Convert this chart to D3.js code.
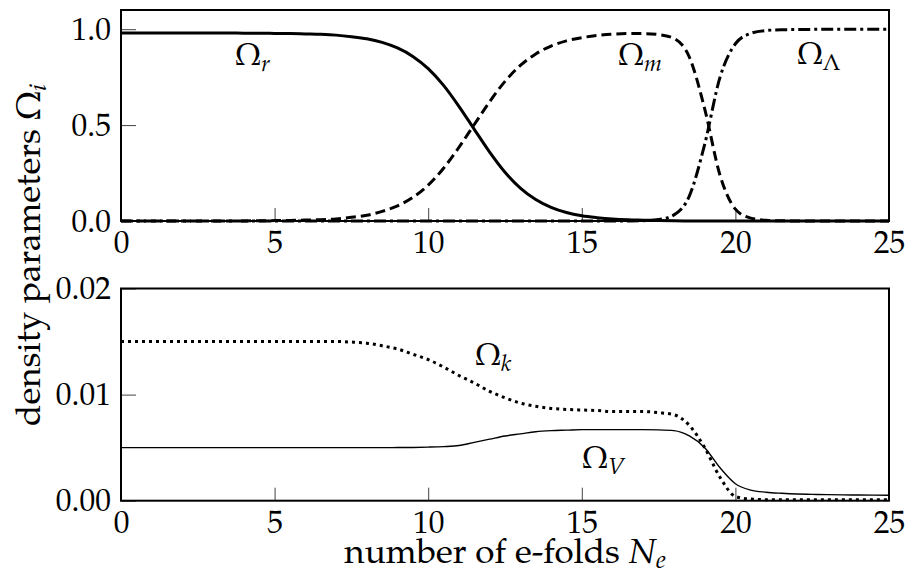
<!DOCTYPE html>
<html>
<head>
<meta charset="utf-8">
<script src="https://cdn.jsdelivr.net/npm/d3@7"></script>
<style>
  html, body { margin: 0; padding: 0; background: #fff; }
  svg { display: block; }
  text { font-family: 'TeX Gyre Pagella', 'P052', 'URW Palladio L', 'Palatino Linotype', Palatino, 'Liberation Serif', serif; fill: #000; }
</style>
</head>
<body>
<svg id="chart" width="905" height="572"></svg>
<script>
// number of e-folds (x values)
const Ne = [0,0.5,1,1.5,2,2.5,3,3.5,4,4.5,5,5.5,6,6.5,7,7.5,8,8.5,9,9.5,10,10.5,11,11.5,12,12.5,13,13.5,14,14.5,15,15.5,16,16.5,17,17.5,18,18.5,19,19.5,20,20.5,21,21.5,22,22.5,23,23.5,24,24.5,25];

// top panel series
const omegaR = [0.980,0.980,0.980,0.980,0.980,0.980,0.980,0.980,0.979,0.979,0.978,0.977,0.975,0.973,0.969,0.961,0.950,0.931,0.902,0.858,0.794,0.707,0.598,0.478,0.359,0.254,0.172,0.112,0.071,0.044,0.027,0.017,0.010,0.006,0.004,0.002,0.001,0.0005,0,0,0,0,0,0,0,0,0,0,0,0,0];
const omegaM = [0,0,0,0,0,0,0,0.0003,0.0006,0.001,0.002,0.003,0.005,0.007,0.011,0.019,0.030,0.050,0.079,0.123,0.187,0.275,0.384,0.503,0.622,0.728,0.811,0.871,0.912,0.939,0.956,0.967,0.974,0.977,0.977,0.972,0.952,0.855,0.585,0.238,0.062,0.015,0.004,0.001,0.0003,0,0,0,0,0,0];
const omegaL = [0,0,0,0,0,0,0,0,0,0,0,0,0,0,0,0,0,0,0,0,0,0,0,0,0,0,0,0,0,0,0,0,0,0.0004,0.0017,0.0074,0.032,0.13,0.40,0.75,0.924,0.978,0.993,0.997,0.998,0.999,0.999,0.999,0.999,0.999,0.999];

// bottom panel series
const omegaK = [0.0150,0.0150,0.0150,0.0150,0.0150,0.0150,0.0150,0.0150,0.0150,0.0150,0.0150,0.0150,0.0150,0.0150,0.0150,0.01495,0.01485,0.0146,0.0143,0.0138,0.0133,0.0126,0.0118,0.0111,0.0103,0.0097,0.0092,0.0089,0.0087,0.0086,0.00855,0.0085,0.0084,0.0084,0.0084,0.0083,0.0081,0.0071,0.0050,0.0022,0.0004,0.00015,0.0001,0.0001,0.0001,0.0001,0.0001,0.0001,0.0001,0.0001,0.0001];
const omegaV = [0.0050,0.0050,0.0050,0.0050,0.0050,0.0050,0.0050,0.0050,0.0050,0.0050,0.0050,0.0050,0.0050,0.0050,0.0050,0.0050,0.0050,0.0050,0.00501,0.00502,0.00505,0.0051,0.0052,0.0055,0.0058,0.0061,0.0063,0.0065,0.0066,0.00665,0.0067,0.0067,0.0067,0.0067,0.0067,0.00668,0.0066,0.0061,0.0050,0.0031,0.0016,0.0010,0.0008,0.0007,0.00063,0.0006,0.00057,0.00055,0.00054,0.00053,0.00052];

// ticks
const xTicks = [0,5,10,15,20,25];
const yTicksTop = [0,0.5,1.0];
const yTicksBottom = [0,0.01,0.02];

const svg = d3.select("#chart");
const left = 121, right = 889;
const x = d3.scaleLinear().domain([0,25]).range([left,right]);
const yTop = d3.scaleLinear().domain([0,1.1]).range([221,10]);
const yBot = d3.scaleLinear().domain([0,0.02]).range([500.7,288.5]);

function axes(yScale, yTicks, fmt) {
  const y0 = yScale.range()[0];
  const gx = svg.append("g").attr("transform", `translate(0,${y0})`)
    .call(d3.axisBottom(x).tickValues(xTicks).tickSize(-13).tickPadding(10).tickFormat(d3.format("d")));
  const gy = svg.append("g").attr("transform", `translate(${left},0)`)
    .call(d3.axisLeft(yScale).tickValues(yTicks).tickSize(-15).tickPadding(10).tickFormat(d3.format(fmt)));
  [gx, gy].forEach(g => {
    g.select(".domain").remove();
    g.selectAll(".tick line").attr("stroke", "#444").attr("stroke-width", 1);
    g.selectAll(".tick text").attr("font-size", 31.5).attr("fill", "#000");
    g.attr("font-family", null).attr("font-size", null);
  });
}

function line(yScale, vals) {
  return d3.line().x((d,i) => x(Ne[i])).y(d => yScale(d)).curve(d3.curveMonotoneX)(vals);
}

function frame(yScale) {
  const y0 = yScale.range()[0], y1 = yScale.range()[1];
  svg.append("rect").attr("x", left).attr("y", y1).attr("width", right-left).attr("height", y0-y1)
    .attr("fill", "none").attr("stroke", "#000").attr("stroke-width", 2);
}

// top panel
axes(yTop, yTicksTop, ".1f");
svg.append("path").attr("d", line(yTop, omegaR)).attr("fill","none").attr("stroke","#000").attr("stroke-width",3);
svg.append("path").attr("d", line(yTop, omegaM)).attr("fill","none").attr("stroke","#000").attr("stroke-width",3).attr("stroke-dasharray","10,5");
svg.append("path").attr("d", line(yTop, omegaL)).attr("fill","none").attr("stroke","#000").attr("stroke-width",3).attr("stroke-dasharray","12,4,3,4");
frame(yTop);

// bottom panel
axes(yBot, yTicksBottom, ".2f");
svg.append("path").attr("d", line(yBot, omegaV)).attr("fill","none").attr("stroke","#000").attr("stroke-width",1.4);
svg.append("path").attr("d", line(yBot, omegaK)).attr("fill","none").attr("stroke","#000").attr("stroke-width",3).attr("stroke-dasharray","3,4");
frame(yBot);

// curve annotations
function omegaLabel(px, py, sub, italic) {
  const t = svg.append("text").attr("x", px).attr("y", py).attr("font-size", 31);
  t.append("tspan").text("Ω");
  t.append("tspan").attr("dy", 6).attr("font-size", 23).attr("font-style", italic ? "italic" : "normal").text(sub);
}
omegaLabel(235, 65, "r", true);
omegaLabel(618, 65, "m", true);
omegaLabel(797, 64, "Λ", false);
omegaLabel(475, 365, "k", true);
omegaLabel(582, 468, "V", true);

// axis labels
const xl = svg.append("text").attr("x", 505).attr("y", 563).attr("text-anchor","middle").attr("font-size", 35);
xl.append("tspan").text("number of e-folds ");
xl.append("tspan").attr("font-style","italic").text("N");
xl.append("tspan").attr("font-style","italic").attr("font-size", 25).attr("dy", 5).text("e");

const yl = svg.append("text").attr("transform", "translate(40,255) rotate(-90)").attr("text-anchor","middle").attr("font-size", 35);
yl.append("tspan").text("density parameters Ω");
yl.append("tspan").attr("font-style","italic").attr("font-size", 25).attr("dy", 6).text("i");
</script>
</body>
</html>
